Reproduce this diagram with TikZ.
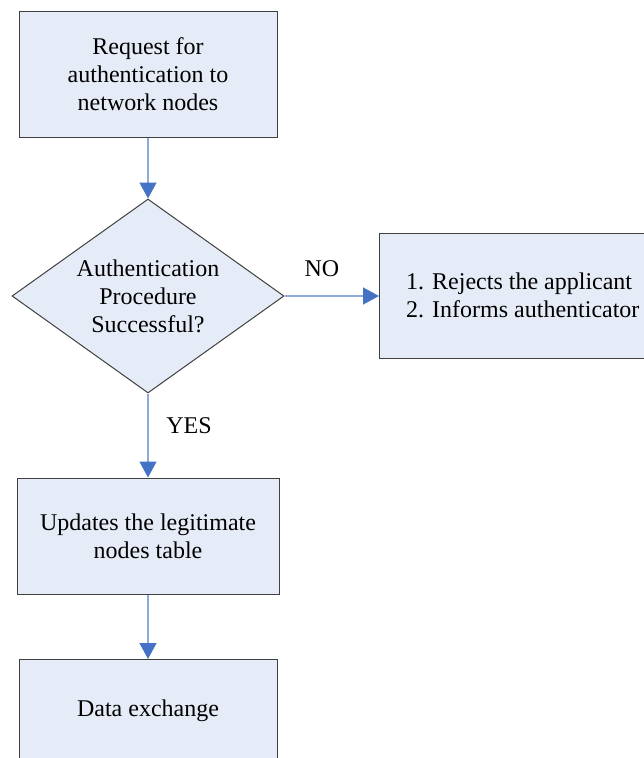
\documentclass[tikz,border=0pt]{standalone}
\usepackage{fontspec}
\setmainfont{Liberation Serif}
\usetikzlibrary{shapes.geometric,arrows.meta}
\definecolor{boxfill}{HTML}{E6ECF7}
\definecolor{boxline}{HTML}{404040}
\definecolor{linkline}{HTML}{8EAADB}
\definecolor{linkhead}{HTML}{4472C4}
\tikzset{
  txt/.style={font=\fontsize{24}{28}\selectfont},
  flowbox/.style={draw=boxline, fill=boxfill, line width=1pt, inner sep=0pt,
    align=center, txt},
  decision/.style={diamond, draw=boxline, fill=boxfill, line width=1pt, inner sep=0pt},
  link/.style={draw=linkline, line width=1.3pt,
    -{Triangle[length=16pt,width=17pt,color=linkhead]}}
}
\begin{document}
\begin{tikzpicture}[x=1pt,y=-1pt]
  \useasboundingbox (0,0) rectangle (644,758);
  \clip (0,0) rectangle (644,758);
  % process boxes
  \node[flowbox, minimum width=258pt, minimum height=126pt] (req) at (148,74)
    {Request for\\authentication to\\network nodes};
  \node[decision, minimum width=272pt, minimum height=194pt, aspect=1.4] (auth) at (148,296) {};
  \node[align=center, txt] (authtxt) at (148,296)
    {Authentication\\Procedure\\Successful?};
  \node[flowbox, minimum width=290pt, minimum height=125pt, anchor=north west] (rej) at (379,233) {};
  \node[align=left, txt, anchor=west, inner sep=0pt] (rejtxt) at (406,295)
    {1. Rejects the applicant\\2. Informs authenticator};
  \node[flowbox, minimum width=262pt, minimum height=116pt] (upd) at (148,536)
    {Updates the legitimate\\nodes table};
  \node[flowbox, minimum width=258pt, minimum height=140pt, anchor=north] (data) at (148,659) {};
  \node[txt] (datatxt) at (148,711) {Data exchange};
  % connectors
  \draw[link] (req.south) -- (auth.north);
  \draw[link] (auth.east) -- (auth.east -| rej.west);
  \draw[link] (auth.south) -- (upd.north);
  \draw[link] (upd.south) -- (data.north);
  % branch labels
  \node[txt] (no) at (322,269) {NO};
  \node[txt] (yes) at (189,426) {YES};
\end{tikzpicture}
\end{document}
